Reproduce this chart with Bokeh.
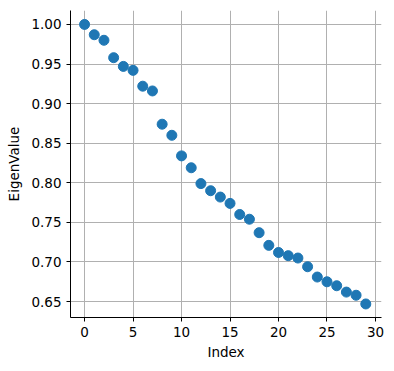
from bokeh.plotting import figure
from bokeh.models import FixedTicker, NumeralTickFormatter, Range1d, ColumnDataSource
from bokeh.embed import file_html
from bokeh.resources import INLINE

index = list(range(30))
eigenvalues = [1.000, 0.987, 0.980, 0.958, 0.947, 0.942, 0.922, 0.916, 0.874, 0.860,
               0.834, 0.819, 0.799, 0.790, 0.782, 0.774, 0.760, 0.754, 0.737, 0.721,
               0.712, 0.708, 0.705, 0.694, 0.681, 0.675, 0.670, 0.662, 0.658, 0.647]
x_ticks = [0, 5, 10, 15, 20, 25, 30]
y_ticks = [0.65, 0.70, 0.75, 0.80, 0.85, 0.90, 0.95, 1.00]

src = ColumnDataSource(dict(x=index, y=eigenvalues))

p = figure(width=388, height=365, output_backend="svg", toolbar_location=None,
           x_range=Range1d(-1.45, 30.62), y_range=Range1d(0.6299, 1.0176),
           min_border_left=70, min_border_right=7, min_border_top=10, min_border_bottom=48)
p.outline_line_color = None
p.background_fill_color = "white"
p.border_fill_color = "white"

p.scatter("x", "y", source=src, size=10, fill_color="#1f77b4", line_color="#1f77b4")

for ax in (p.xaxis[0], p.yaxis[0]):
    ax.axis_line_color = "black"
    ax.axis_line_width = 1
    ax.major_tick_out = 4
    ax.major_tick_in = 0
    ax.minor_tick_line_color = None
    ax.major_tick_line_color = "black"
    ax.major_label_text_font = "DejaVu Sans"
    ax.major_label_text_font_size = "13.5px"
    ax.major_label_text_color = "black"
    ax.axis_label_text_font = "DejaVu Sans"
    ax.axis_label_text_font_size = "13.5px"
    ax.axis_label_text_font_style = "normal"
    ax.axis_label_text_color = "black"

p.xaxis.ticker = FixedTicker(ticks=x_ticks)
p.yaxis.ticker = FixedTicker(ticks=y_ticks)
p.yaxis.formatter = NumeralTickFormatter(format="0.00")
p.xaxis.axis_label = "Index"
p.yaxis.axis_label = "EigenValue"
p.xaxis.major_label_standoff = 5
p.yaxis.major_label_standoff = 5
p.xaxis.axis_label_standoff = 4
p.yaxis.axis_label_standoff = 6

p.grid.grid_line_color = "#b0b0b0"
p.grid.grid_line_width = 1
p.xgrid.ticker = FixedTicker(ticks=x_ticks)
p.ygrid.ticker = FixedTicker(ticks=y_ticks)

open("out.html", "w").write(file_html(p, INLINE))
